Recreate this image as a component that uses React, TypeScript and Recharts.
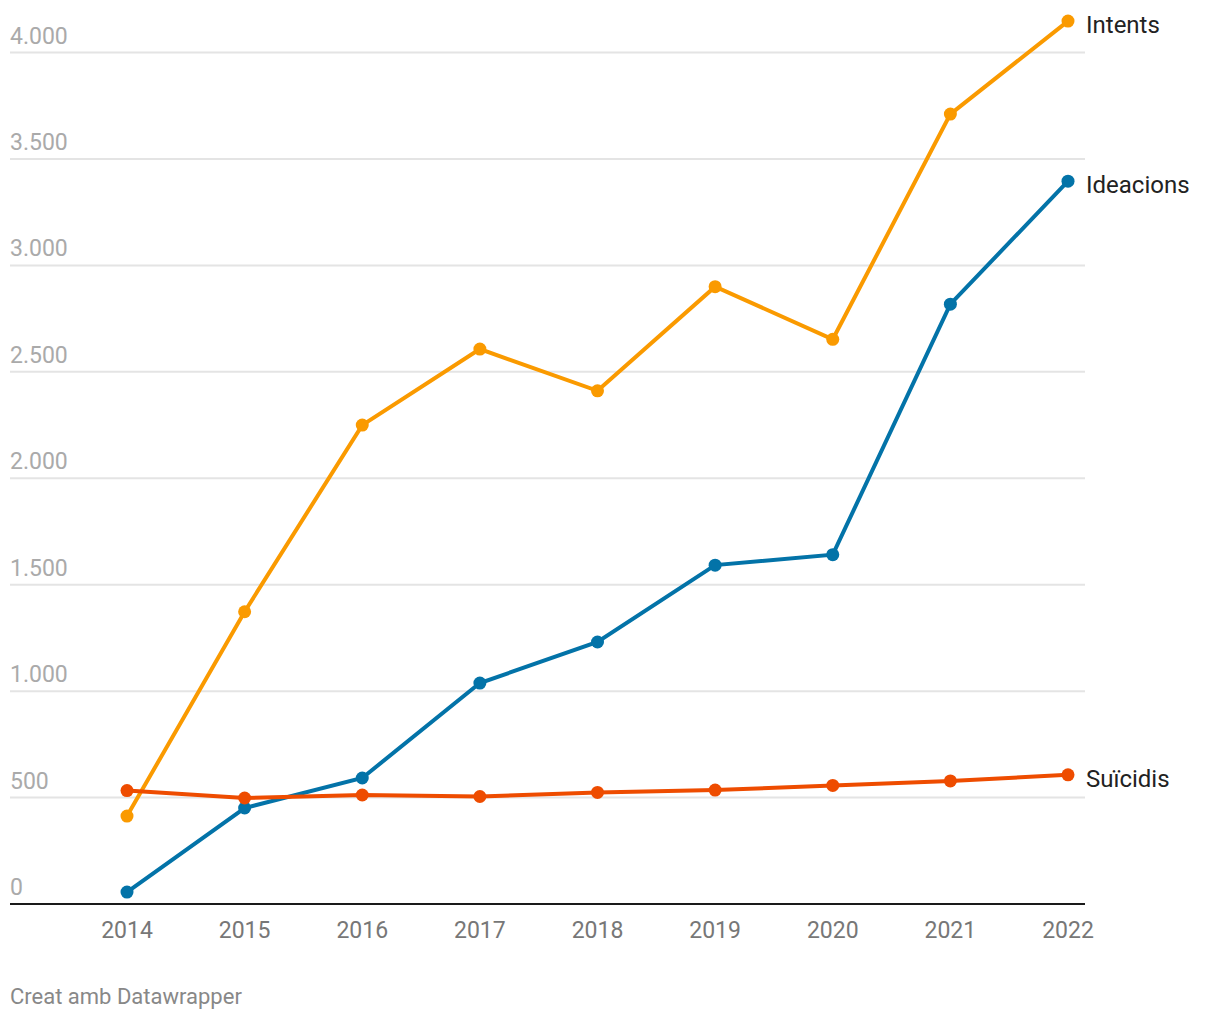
import React from "react";
import { LineChart, Line, XAxis, YAxis, CartesianGrid } from "recharts";

const years = ["2014", "2015", "2016", "2017", "2018", "2019", "2020", "2021", "2022"];
const intents = [413, 1373, 2250, 2607, 2411, 2900, 2653, 3711, 4148];
const ideacions = [56, 451, 592, 1038, 1231, 1592, 1641, 2818, 3396];
const suicidis = [533, 498, 512, 505, 524, 535, 557, 578, 607];
const yTicks = [0, 500, 1000, 1500, 2000, 2500, 3000, 3500, 4000];

const data = years.map((y, i) => ({
  year: y,
  intents: intents[i],
  ideacions: ideacions[i],
  suicidis: suicidis[i],
}));

const FONT = "Roboto, 'Noto Sans', sans-serif";

const fmt = (v: number) => v.toString().replace(/\B(?=(\d{3})+(?!\d))/g, ".");

const YTick = (props: any) => {
  const { y, payload } = props;
  return (
    <text x={10} y={y - 9} fill="#aaaaaa" fontSize={23} fontFamily={FONT} textAnchor="start">
      {fmt(payload.value)}
    </text>
  );
};

const XTick = (props: any) => {
  const { x, payload } = props;
  return (
    <text x={x} y={938} fill="#777777" fontSize={23} fontFamily={FONT} textAnchor="middle">
      {payload.value}
    </text>
  );
};

const makeLabel = (name: string) => (props: any) => {
  const { x, y, index } = props;
  if (index !== years.length - 1) return null;
  return (
    <text x={x + 18} y={y + 12} fill="#222222" fontSize={24} fontFamily={FONT} textAnchor="start">
      {name}
    </text>
  );
};

const series = [
  { key: "intents", name: "Intents", color: "#fa9a00" },
  { key: "ideacions", name: "Ideacions", color: "#0373a8" },
  { key: "suicidis", name: "Suïcidis", color: "#ee4c00" },
];

export default function App() {
  return (
    <div style={{ position: "absolute", left: 0, top: 0, width: 1220, height: 1020, background: "#fff" }}>
      <LineChart
        width={1220}
        height={1020}
        data={data}
        margin={{ top: 10, right: 135, left: 9, bottom: 76 }}
      >
        <CartesianGrid
          horizontal={true}
          vertical={false}
          stroke="#e4e4e4"
          strokeWidth={2}
          horizontalValues={yTicks}
        />
        <XAxis
          dataKey="year"
          height={40}
          padding={{ left: 117, right: 17 }}
          axisLine={{ stroke: "#1a1a1a", strokeWidth: 2 }}
          tickLine={false}
          tick={<XTick />}
          interval={0}
        />
        <YAxis
          width={1}
          domain={[0, 4200]}
          ticks={yTicks}
          axisLine={false}
          tickLine={false}
          tick={<YTick />}
          interval={0}
        />
        {series.map((s) => (
          <Line
            key={s.key}
            type="linear"
            dataKey={s.key}
            stroke={s.color}
            strokeWidth={4}
            dot={{ r: 6.5, fill: s.color, stroke: "none" }}
            activeDot={false}
            isAnimationActive={false}
            label={makeLabel(s.name)}
          />
        ))}
      </LineChart>
      <svg style={{ position: "absolute", left: 0, top: 980 }} width={400} height={40}>
        <text x={10} y={24} fill="#888888" fontSize={22} fontFamily={FONT}>
          Creat amb Datawrapper
        </text>
      </svg>
    </div>
  );
}
